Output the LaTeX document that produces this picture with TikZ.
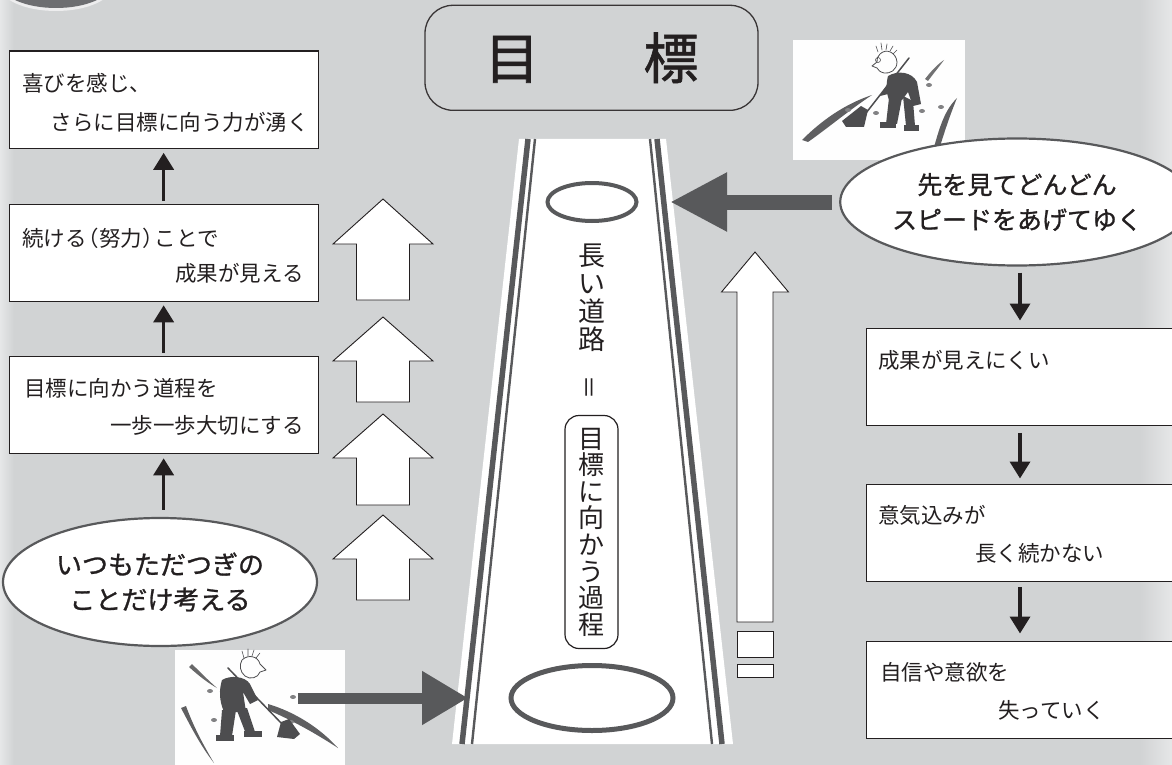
\documentclass[tikz,border=0pt]{standalone}
\usepackage{fontspec}
\setmainfont{Noto Sans CJK JP}
\newfontfamily\boldish{Noto Sans CJK JP}[FakeBold=1.1]
\usetikzlibrary{arrows.meta,shapes.geometric,calc}

\definecolor{bgfill}{HTML}{D1D3D4}
\definecolor{bgedge}{HTML}{E6E7E8}
\definecolor{ink}{HTML}{231F20}
\definecolor{roadgrey}{HTML}{58595B}
\definecolor{tabgrey}{HTML}{6D6E71}
\definecolor{pencil}{HTML}{4D4D4F}

\tikzset{
  txt/.style={inner sep=0pt, text=ink, font=\fontsize{21.5}{24}\selectfont},
  stepbox/.style={draw=ink, line width=1.3pt, fill=white, anchor=north west,
    inner sep=0pt, minimum width=309pt, minimum height=97pt},
  sidebox/.style={stepbox, minimum width=330pt},
  bubble/.style={ellipse, draw=roadgrey, line width=2.2pt, fill=white, inner sep=0pt,
    align=center, text=ink, font=\boldish\fontsize{26}{35}\selectfont},
  upflow/.style={draw=ink, line width=3.6pt, -{Triangle[width=20pt,length=17pt]}},
  bigflow/.style={draw=roadgrey, -{Triangle[width=55pt,length=57pt]}},
  hollow/.style={draw=ink, line width=0.9pt, fill=white, line join=miter},
  gate/.style={ellipse, draw=roadgrey, inner sep=0pt},
  sketch/.style={fill=white!97!bgfill, inner sep=0pt, anchor=north west},
  pen/.style={draw=pencil, line cap=round, line join=round},
}

% hollow up-arrow: centre x, tip y, head base y, bottom y, head half width, shaft half width
\newcommand\hollowup[6]{%
  \draw[hollow] (#1,#2) -- (#1+#5,#3) -- (#1+#6,#3) -- (#1+#6,#4)
    -- (#1-#6,#4) -- (#1-#6,#3) -- (#1-#5,#3) -- cycle;}

\begin{document}
\begin{tikzpicture}[x=1pt,y=-1pt]
\useasboundingbox (0,0) rectangle (1172,765);
\clip (0,0) rectangle (1172,765);

% background
\fill[bgfill] (0,0) rectangle (1172,765);
\shade[left color=bgedge, right color=bgfill] (0,0) rectangle (14,765);
\shade[left color=bgfill, right color=bgedge] (1140,0) rectangle (1172,765);

% corner tab
\fill[white!60!bgfill] (56,-15) ellipse (57 and 26);
\fill[tabgrey] (56,-17) ellipse (56 and 25);

% title
\node[draw=ink!90, line width=1.3pt, rounded corners=28pt, minimum width=333pt,
  minimum height=105pt, inner sep=0pt, text=ink, font=\boldish\fontsize{55}{55}\selectfont]
  (goal) at (591.5,57.8) {目\hspace{104pt}標};

% the long road
\fill[white] (519,139) -- (666,139) -- (733,744) -- (452,744) -- cycle;
\draw[roadgrey, line width=5.5pt] (528,139) -- (462,744);
\draw[roadgrey, line width=2.4pt] (535,139) -- (472,744);
\draw[roadgrey, line width=5.5pt] (657,139) -- (722,744);
\draw[roadgrey, line width=2.4pt] (650,139) -- (712,744);
\node[gate, line width=4pt, minimum width=89pt, minimum height=38pt] (gatetop) at (592,202) {};
\node[gate, line width=5pt, minimum width=162pt, minimum height=65pt] (gatebottom) at (592,698) {};
\node[inner sep=0pt, text=ink, align=center, font=\fontsize{27}{28}\selectfont]
  (roadword) at (592,298) {長\\い\\道\\路};
\node[inner sep=0pt, text=ink, rotate=90, font=\fontsize{24}{24}\selectfont]
  (equals) at (592,387) {＝};
\node[draw=ink, line width=1.2pt, rounded corners=14pt, minimum width=53pt,
  minimum height=233pt, inner sep=0pt, text=ink, align=center,
  font=\fontsize{26}{26.6}\selectfont]
  (process) at (591.5,532) {目\\標\\に\\向\\か\\う\\過\\程};

% sweeper sketches
\node[sketch, minimum width=172pt, minimum height=120pt] (sketchtr) at (793,40) {};
\node[sketch, minimum width=170pt, minimum height=118pt] (sketchbl) at (175,650) {};

% sketch: upper right
\begin{scope}[pen]
  \fill[pencil!90] (802,140) .. controls (822,120) and (845,104) .. (872,95)
    .. controls (848,111) and (828,128) .. (808,142) -- cycle;
  \fill[pencil!90] (933,151) .. controls (940,125) and (945,110) .. (957,98)
    .. controls (950,115) and (944,133) .. (938,153) -- cycle;
  \fill[pencil!80] (925,79) .. controls (932,70) and (938,64) .. (944,60)
    .. controls (939,67) and (933,74) .. (928,81) -- cycle;
  \foreach \p in {(848,110),(876,113),(922,111),(941,107),(929,85)}
    \fill[pencil!70] \p ellipse (3 and 2);
  \draw[line width=0.6pt] (878,52)--(876,46) (882,50)--(881,43) (886,50)--(887,44)
    (890,51)--(893,46) (893,54)--(897,50);
  \draw[line width=0.8pt] (880,54) .. controls (886,48) and (896,52) .. (897,62)
    .. controls (897,70) and (890,74) .. (884,73) .. controls (880,72) and (878,70) .. (877,68)
    -- (872,66) -- (877,62) .. controls (877,58) and (878,56) .. (880,54);
  \draw[line width=0.6pt] (878,60) circle (2.5);
  \fill[pencil] (888,76) .. controls (898,70) and (912,72) .. (917,82) -- (921,104)
    -- (913,106) -- (908,92) -- (902,100) -- (889,100) .. controls (886,92) and (886,84) .. (888,76) -- cycle;
  \fill[pencil] (890,80) -- (900,78) -- (888,94) -- (880,96) -- cycle;
  \fill[pencil] (889,98) -- (902,98) -- (897,124) -- (886,124) -- cycle;
  \fill[pencil] (903,96) -- (913,101) -- (915,126) -- (906,126) -- cycle;
  \fill[pencil] (880,122) rectangle (896,128);
  \fill[pencil] (904,125) rectangle (919,131);
  \draw[line width=1.5pt] (909,58) -- (866,113);
  \fill[pencil] (868,110) -- (861,106) -- (842,121) -- (846,127) -- (864,127) -- cycle;
\end{scope}

% sketch: lower left
\begin{scope}[pen]
  \fill[pencil!85] (192,664) .. controls (200,672) and (208,680) .. (217,688)
    .. controls (208,683) and (199,676) .. (189,667) -- cycle;
  \fill[pencil!90] (181,708) .. controls (190,725) and (200,745) .. (214,763)
    .. controls (204,746) and (194,728) .. (186,706) -- cycle;
  \fill[pencil!90] (268,704) .. controls (295,712) and (320,728) .. (338,748)
    .. controls (318,735) and (294,721) .. (268,710) -- cycle;
  \foreach \p in {(210,691),(214,720),(291,722),(293,697)}
    \fill[pencil!70] \p ellipse (3 and 2);
  \draw[line width=0.6pt] (244,658)--(242,651) (248,656)--(248,649) (252,656)--(254,650)
    (256,658)--(260,653);
  \draw[line width=0.8pt] (242,660) .. controls (248,654) and (258,656) .. (260,664)
    -- (266,670) -- (260,672) .. controls (258,678) and (250,680) .. (245,676)
    .. controls (240,672) and (239,665) .. (242,660);
  \fill[pencil] (222,680) .. controls (230,675) and (245,676) .. (250,684) -- (258,700)
    -- (250,704) -- (243,692) -- (246,712) -- (224,712) .. controls (219,700) and (219,690) .. (222,680) -- cycle;
  \fill[pencil] (222,710) -- (236,710) -- (232,736) -- (220,736) -- cycle;
  \fill[pencil] (236,708) -- (247,708) -- (255,732) -- (246,734) -- cycle;
  \fill[pencil] (216,735) rectangle (234,741);
  \fill[pencil] (244,731) rectangle (262,737);
  \draw[line width=1.5pt] (228,668) -- (284,726);
  \fill[pencil] (281,722) -- (289,719) -- (300,734) -- (294,739) -- (277,737) -- cycle;
\end{scope}

% left column
\node[stepbox] (b1) at (8.5,50.5) {};
\node[stepbox] (b2) at (8.5,204) {};
\node[stepbox] (b3) at (8.5,356) {};
\node[txt, anchor=west] (b1a) at (22,83) {喜びを感じ、};
\node[txt, anchor=east] (b1b) at (309,122) {さらに目標に向う力が湧く};
\node[txt, anchor=west] (b2a) at (22,238) {続ける\kern-.42em（努力）\kern-.42emことで};
\node[txt, anchor=east] (b2b) at (304,273) {成果が見える};
\node[txt, anchor=west] (b3a) at (24,388) {目標に向かう道程を};
\node[txt, anchor=east] (b3b) at (304,425) {一歩一歩大切にする};
\node[bubble, minimum width=314pt, minimum height=128pt] (lbubble) at (160,582)
  {いつもただつぎの\\ことだけ考える};
\draw[upflow, shorten <=3pt, shorten >=4pt] (b2.north) -- (b1.south);
\draw[upflow, shorten <=3pt, shorten >=3pt] (b3.north) -- (b2.south);
\draw[upflow, shorten <=7pt, shorten >=4pt] (lbubble.north -| b3.south) -- (b3.south);

% hollow arrows beside the road
\hollowup{383}{199}{244}{300}{50}{26.5}
\hollowup{383}{317}{361}{402}{50}{26.5}
\hollowup{383}{414}{458}{505}{50}{26.5}
\hollowup{383}{515}{559}{600}{50}{26.5}
\hollowup{755}{252}{292}{622}{33.5}{18}
\draw[hollow] (737,631) rectangle (773,657);
\draw[hollow] (737,664) rectangle (773,677);

% right column
\node[bubble, minimum width=308pt, minimum height=127pt,
  font=\boldish\fontsize{25}{35}\selectfont] (rbubble) at (1017,202)
  {先を見てどんどん\\スピードをあげてゆく};
\node[sidebox] (r1) at (865.5,327.5) {};
\node[sidebox] (r2) at (865.5,483.5) {};
\node[sidebox] (r3) at (865.5,640.5) {};
\node[txt, anchor=west] (r1a) at (878,360) {成果が見えにくい};
\node[txt, anchor=west] (r2a) at (878,515) {意気込みが};
\node[txt, anchor=west] (r2b) at (975,553) {長く続かない};
\node[txt, anchor=west] (r3a) at (880,672) {自信や意欲を};
\node[txt, anchor=west] (r3b) at (998,710) {失っていく};
\coordinate (rx) at (1020,0);
\draw[upflow, shorten <=6pt, shorten >=7pt] (rbubble.south -| rx) -- (r1.north -| rx);
\draw[upflow, shorten <=7pt, shorten >=5pt] (r1.south -| rx) -- (r2.north -| rx);
\draw[upflow, shorten <=5pt, shorten >=7pt] (r2.south -| rx) -- (r3.north -| rx);

% heavy arrows onto the road
\coordinate (roadR) at (670,202);
\coordinate (sweepL) at (298,698);
\coordinate (roadL) at (468,698);
\draw[bigflow, line width=15pt, shorten <=7pt] (rbubble.west) -- (roadR);
\draw[draw=roadgrey, line width=11pt, -{Triangle[width=51pt,length=46pt]}] (sweepL) -- (roadL);
\end{tikzpicture}
\end{document}
